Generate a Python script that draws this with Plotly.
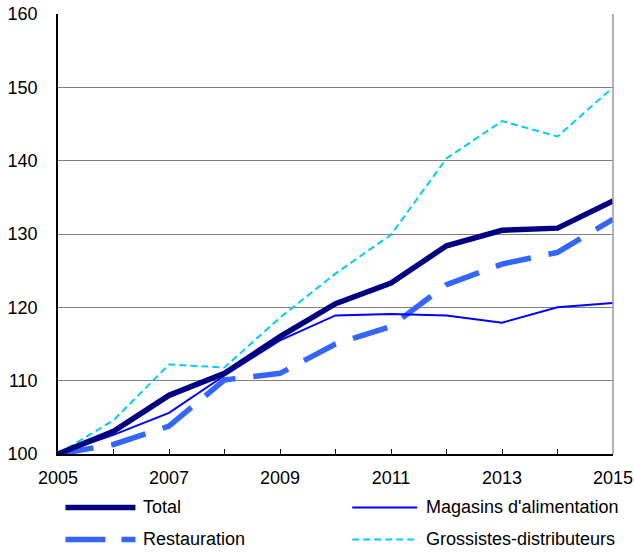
import plotly.graph_objects as go

years = list(range(2005, 2016))
total = [100, 103.1, 108.0, 111.0, 116.0, 120.5, 123.3, 128.4, 130.5, 130.8, 134.5]
magasins = [100, 102.6, 105.6, 110.7, 115.5, 118.9, 119.1, 118.9, 117.9, 120.0, 120.6]
restauration = [100, 101.3, 103.8, 110.1, 111.0, 115.0, 117.4, 123.1, 125.9, 127.5, 132.0]
grossistes = [100, 104.6, 112.2, 111.8, 118.6, 124.6, 129.9, 140.3, 145.4, 143.3, 150.0]

names = ["Total", "Magasins d'alimentation", "Restauration", "Grossistes-distributeurs"]
x_ticktext = ["2005", "", "2007", "", "2009", "", "2011", "", "2013", "", "2015"]
y_ticks = [100, 110, 120, 130, 140, 150, 160]

styles = {
    "Total": dict(color="#000080", width=5.5, dash="solid"),
    "Magasins d'alimentation": dict(color="#0000FF", width=2, dash="solid"),
    "Restauration": dict(color="#3366FF", width=5.5, dash="36px,18px"),
    "Grossistes-distributeurs": dict(color="#00CCFF", width=2, dash="7px,4px"),
}
series = {"Total": total, "Magasins d'alimentation": magasins,
          "Restauration": restauration, "Grossistes-distributeurs": grossistes}

fig = go.Figure()
for nm in ["Grossistes-distributeurs", "Restauration", "Magasins d'alimentation", "Total"]:
    fig.add_trace(go.Scatter(x=years, y=series[nm], mode="lines", name=nm,
                             line=styles[nm], showlegend=False, hoverinfo="skip"))

FONT = "Liberation Sans, Arial, sans-serif"
FS = 18
L, R, T, B = 57.5, 21, 14, 97.5
W, H = 634, 552
pw, ph = W - L - R, H - T - B

def px_x(p):
    return (p - L) / pw

def px_y(p):
    return (H - B - p) / ph

shapes = [dict(type="line", xref="paper", yref="paper", x0=1, x1=1, y0=0, y1=1,
               line=dict(color="#999999", width=1.5), layer="above")]
annotations = []
legend_pos = [
    ("Total", 65, 135, 508, 141),
    ("Magasins d'alimentation", 352, 417, 508, 424),
    ("Restauration", 65, 135, 540, 141),
    ("Grossistes-distributeurs", 352, 417, 540, 424),
]
for nm, x0, x1, yy, tx in legend_pos:
    st = styles[nm]
    shapes.append(dict(type="line", xref="paper", yref="paper",
                       x0=px_x(x0), x1=px_x(x1), y0=px_y(yy), y1=px_y(yy),
                       line=dict(color=st["color"], width=st["width"],
                                 dash=st["dash"] if nm != "Restauration" else "40px,16px")))
    annotations.append(dict(text=nm, xref="paper", yref="paper", x=px_x(tx), y=px_y(yy),
                            xanchor="left", yanchor="middle", showarrow=False,
                            font=dict(family=FONT, size=FS, color="black")))

fig.update_layout(
    width=W, height=H,
    margin=dict(l=L, r=R, t=T, b=B, pad=0),
    plot_bgcolor="white", paper_bgcolor="white",
    font=dict(family=FONT, size=FS, color="black"),
    showlegend=False,
    shapes=shapes, annotations=annotations,
    xaxis=dict(range=[2005, 2015], tickvals=years, ticktext=x_ticktext,
               ticks="inside", ticklen=5, tickcolor="black", showgrid=False,
               showline=True, linecolor="black", linewidth=1.5, zeroline=False,
               automargin=False, ticklabelstandoff=7),
    yaxis=dict(range=[100, 160], tickvals=y_ticks, ticks="", showgrid=True,
               gridcolor="#808080", gridwidth=1, showline=True, linecolor="black",
               linewidth=1.5, zeroline=False, automargin=False, ticklabelstandoff=15),
)
fig.write_html("out.html", config={"displayModeBar": False},
               post_script="document.body.style.margin='0';document.body.style.overflow='hidden';")
